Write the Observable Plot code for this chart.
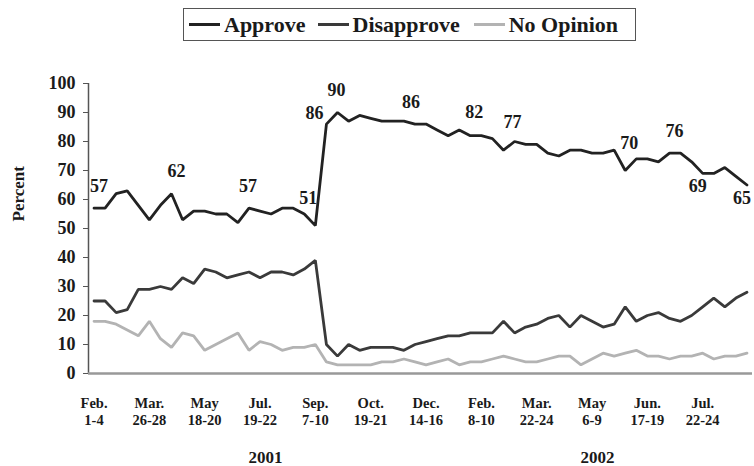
<!DOCTYPE html>
<html>
<head>
<meta charset="utf-8">
<script src="https://cdn.jsdelivr.net/npm/d3@7"></script>
<script src="https://cdn.jsdelivr.net/npm/@observablehq/plot@0.6"></script>
<style>
  html, body { margin: 0; padding: 0; background: #fff; }
  #wrap { position: relative; width: 754px; height: 466px; overflow: hidden; font-family: "Liberation Serif", "Times New Roman", serif; }
  #legend { position: relative; height: 45px; }
  #legend .box { position: absolute; left: 183px; top: 8px; width: 453px; height: 33px; border: 1.5px solid #555;
    display: flex; align-items: center; padding-left: 5px; box-sizing: border-box; white-space: nowrap; }
  #legend .item { display: flex; align-items: center; flex-shrink: 0; font-weight: bold; font-size: 22px; color: #1a1a1a; white-space: nowrap; }
  #legend .sw { display: inline-block; width: 31px; height: 0; border-top: 3px solid; margin-right: 4px; }
</style>
</head>
<body>
<div id="wrap">
  <div id="legend"><div class="box"></div></div>
  <div id="chart"></div>
</div>
<script>
// ---- data ----
const approve = [57,57,62,63,58,53,58,62,53,56,56,55,55,52,57,56,55,57,57,55,51,86,90,87,89,88,87,87,87,86,86,84,82,84,82,82,81,77,80,79,79,76,75,77,77,76,76,77,70,74,74,73,76,76,73,69,69,71,68,65];
const disapprove = [25,25,21,22,29,29,30,29,33,31,36,35,33,34,35,33,35,35,34,36,39,10,6,10,8,9,9,9,8,10,11,12,13,13,14,14,14,18,14,16,17,19,20,16,20,18,16,17,23,18,20,21,19,18,20,23,26,23,26,28];
const noOpinion = [18,18,17,15,13,18,12,9,14,13,8,10,12,14,8,11,10,8,9,9,10,4,3,3,3,3,4,4,5,4,3,4,5,3,4,4,5,6,5,4,4,5,6,6,3,5,7,6,7,8,6,6,5,6,6,7,5,6,6,7];

const seriesNames = ["Approve", "Disapprove", "No Opinion"];
const seriesColors = ["#222222", "#3a3a3a", "#b3b3b3"];

const tickMonths = ["Feb.","Mar.","May","Jul.","Sep.","Oct.","Dec.","Feb.","Mar.","May","Jun.","Jul."];
const tickDays   = ["1-4","26-28","18-20","19-22","7-10","19-21","14-16","8-10","22-24","6-9","17-19","22-24"];
const tickEvery = 5; // one date label every 5 polls
const yTicks = [0,10,20,30,40,50,60,70,80,90,100];

const years = [{label: "2001", first: 0, last: 31}, {label: "2002", first: 31, last: 60}];

// value callouts on the Approve line (poll index, placement)
const callouts = [
  {i: 0, place: "above"}, {i: 7, place: "above"}, {i: 14, place: "aboveC"},
  {i: 20, place: "highL"}, {i: 21, place: "left"}, {i: 22, place: "aboveC"},
  {i: 30, place: "aboveLL"}, {i: 35, place: "aboveL"}, {i: 37, place: "highR"},
  {i: 48, place: "high"}, {i: 52, place: "above"}, {i: 55, place: "below"}, {i: 59, place: "below"}
];

// ---- build table ----
const allSeries = [approve, disapprove, noOpinion];
const rows = [];
allSeries.forEach((vals, s) => vals.forEach((v, i) => rows.push({i, value: v, series: seriesNames[s]})));
const calloutRows = callouts.map(c => ({...c, value: approve[c.i]}));
const offsets = {
  above: {dx: 5, dy: -22}, aboveC: {dx: -1, dy: -22}, aboveL: {dx: -7, dy: -23}, aboveLL: {dx: -15, dy: -22},
  high: {dx: 4, dy: -27}, highL: {dx: -7, dy: -27}, highR: {dx: 9, dy: -28},
  left: {dx: -12, dy: -11}, below: {dx: -5, dy: 13}
};
const tickIdx = tickMonths.map((_, k) => k * tickEvery);

// ---- legend ----
const box = document.querySelector("#legend .box");
seriesNames.forEach((name, k) => {
  const it = document.createElement("div");
  it.className = "item";
  it.style.marginRight = k === 0 ? "12px" : "14px";
  const sw = document.createElement("span");
  sw.className = "sw";
  sw.style.borderTopColor = seriesColors[k];
  const tx = document.createElement("span");
  tx.textContent = name;
  it.append(sw, tx);
  box.append(it);
});

// ---- chart ----
const textFont = {fontFamily: "Liberation Serif", fontWeight: "bold"};
const plot = Plot.plot({
  width: 754,
  height: 421,
  marginLeft: 88,
  marginRight: 2,
  marginTop: 38,
  marginBottom: 93,
  x: {domain: [-0.5, 59.5], axis: null},
  y: {domain: [0, 100], axis: null},
  color: {domain: seriesNames, range: seriesColors},
  style: {background: "#fff", color: "#1a1a1a", fontFamily: "Liberation Serif", fontWeight: "bold", overflow: "visible"},
  marks: [
    Plot.axisY({ticks: yTicks, tickSize: 5, tickPadding: 8, fontSize: 18, label: null, stroke: "#555", ...textFont}),
    Plot.axisX({ticks: tickIdx, tickSize: 0, tickPadding: 22, fontSize: 14.5, lineHeight: 1.18, label: null,
      tickFormat: d => tickMonths[d / tickEvery] + "\n" + tickDays[d / tickEvery], ...textFont}),
    Plot.ruleX([-0.5], {stroke: "#555", strokeWidth: 1.5}),
    Plot.ruleY([0], {stroke: "#999", strokeWidth: 2.5}),
    Plot.lineY(rows, {x: "i", y: "value", stroke: "series", z: "series", strokeWidth: 2.8, strokeLinejoin: "miter"}),
    ...Object.entries(offsets).map(([place, o]) =>
      Plot.text(calloutRows.filter(c => c.place === place), {x: "i", y: "value", text: d => String(d.value),
        dx: o.dx, dy: o.dy, fontSize: 18, fill: "#1a1a1a", ...textFont})),
    Plot.text(years, {x: d => (d.first + d.last) / 2, y: 0, dy: 84, text: "label", fontSize: 17, ...textFont}),
    Plot.text(["Percent"], {frameAnchor: "left", dx: -70, dy: -7, rotate: -90, fontSize: 17, ...textFont})
  ]
});
document.getElementById("chart").append(plot);
</script>
</body>
</html>
